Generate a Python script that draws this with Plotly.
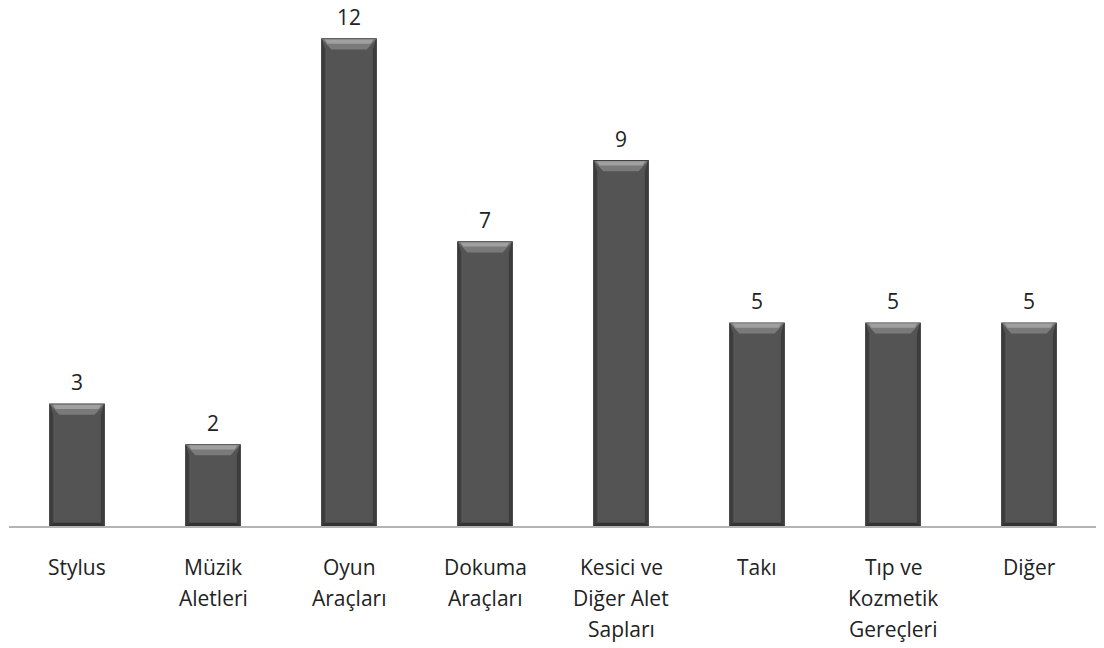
import plotly.graph_objects as go

categories = ["Stylus", "Müzik<br>Aletleri", "Oyun<br>Araçları", "Dokuma<br>Araçları",
              "Kesici ve<br>Diğer Alet<br>Sapları", "Takı", "Tıp ve<br>Kozmetik<br>Gereçleri", "Diğer"]
values = [3, 2, 12, 7, 9, 5, 5, 5]

FONT = "Open Sans, sans-serif"
x = list(range(len(categories)))
bw = 0.4

fig = go.Figure()
fig.add_trace(go.Bar(
    x=x, y=values, width=bw,
    marker=dict(color="#545454", line=dict(color="#2e2e2e", width=1.2)),
    hoverinfo="skip",
))

shapes = []
dy = 0.26
dx = 0.07
for xi, v in zip(x, values):
    # top bevel (two tones for a soft gradient)
    shapes.append(dict(type="path", xref="x", yref="y",
                       path=f"M {xi-bw/2},{v} L {xi+bw/2},{v} L {xi+bw/2-dx},{v-dy} L {xi-bw/2+dx},{v-dy} Z",
                       fillcolor="#7a7a7a", line=dict(width=0)))
    shapes.append(dict(type="path", xref="x", yref="y",
                       path=f"M {xi-bw/2+dx*0.3},{v-dy*0.05} L {xi+bw/2-dx*0.3},{v-dy*0.05} L {xi+bw/2-dx*0.6},{v-dy*0.45} L {xi-bw/2+dx*0.6},{v-dy*0.45} Z",
                       fillcolor="#a0a0a0", line=dict(width=0)))
    # left bevel
    shapes.append(dict(type="path", xref="x", yref="y",
                       path=f"M {xi-bw/2},{v} L {xi-bw/2+dx*0.35},{v-dy} L {xi-bw/2+dx*0.35},{dy*0.3} L {xi-bw/2},0 Z",
                       fillcolor="#3c3c3c", line=dict(width=0)))
    # right bevel
    shapes.append(dict(type="path", xref="x", yref="y",
                       path=f"M {xi+bw/2},{v} L {xi+bw/2-dx*0.35},{v-dy} L {xi+bw/2-dx*0.35},{dy*0.3} L {xi+bw/2},0 Z",
                       fillcolor="#3c3c3c", line=dict(width=0)))
    # bottom bevel
    shapes.append(dict(type="path", xref="x", yref="y",
                       path=f"M {xi-bw/2},0 L {xi+bw/2},0 L {xi+bw/2-dx*0.35},{dy*0.3} L {xi-bw/2+dx*0.35},{dy*0.3} Z",
                       fillcolor="#333333", line=dict(width=0)))

annotations = []
for xi, v in zip(x, values):
    annotations.append(dict(x=xi, y=v, xref="x", yref="y", text=str(v), showarrow=False,
                            yanchor="middle", yshift=22, borderpad=0,
                            font=dict(family=FONT, size=21, color="#222222")))
for xi, c in zip(x, categories):
    for i, line in enumerate(c.split("<br>")):
        annotations.append(dict(x=xi, y=0, xref="x", yref="y", text=line, showarrow=False,
                                yanchor="middle", yshift=-(41 + i * 31), borderpad=0,
                                font=dict(family=FONT, size=21, color="#222222")))

fig.update_layout(
    width=1104, height=648,
    margin=dict(l=1, r=15, t=11, b=130),
    paper_bgcolor="white", plot_bgcolor="white",
    showlegend=False,
    shapes=shapes,
    annotations=annotations,
    xaxis=dict(range=[-0.5, len(categories) - 0.5], showticklabels=False, showgrid=False,
               zeroline=False, showline=True, linecolor="#b4b4b4", linewidth=2, ticks=""),
    yaxis=dict(range=[0, 12.49], visible=False, showgrid=False, zeroline=False),
)

fig.write_html("out.html")
